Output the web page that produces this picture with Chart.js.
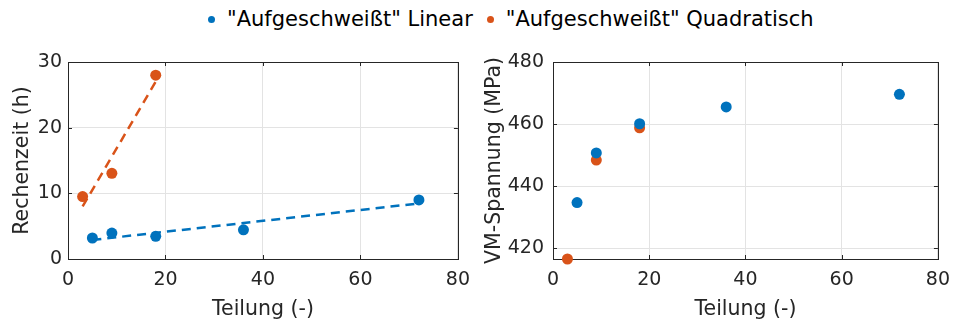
<!DOCTYPE html>
<html>
<head>
<meta charset="utf-8">
<script src="https://cdn.jsdelivr.net/npm/chart.js@4.4.1/dist/chart.umd.min.js"></script>
<style>
  body { margin: 0; background: #fff; width: 960px; height: 325px; position: relative; overflow: hidden; font-family: "DejaVu Sans", sans-serif; }
  .panel { position: absolute; top: 40px; width: 480px; height: 285px; }
  #legend { position: absolute; left: 208px; top: 7px; display: flex; align-items: center; font-size: 21px; line-height: 24px; color: #000; white-space: nowrap; }
  #legend .item { display: flex; align-items: center; margin-right: 14px; }
  #legend .dot { width: 7px; height: 7px; border-radius: 50%; margin-right: 12px; }
</style>
</head>
<body>
<div id="legend"></div>
<div class="panel" style="left:0"><canvas id="timeChart"></canvas></div>
<div class="panel" style="left:480px"><canvas id="stressChart"></canvas></div>
<script>
Chart.defaults.font.family = '"DejaVu Sans", sans-serif';

// series names and colours
const seriesNames = ['"Aufgeschweißt" Linear', '"Aufgeschweißt" Quadratisch'];
const seriesColors = ['#0072BD', '#D95319'];

// left panel: computing time (h)
const linX = [5, 9, 18, 36, 72];
const linTime = [3.2, 3.95, 3.45, 4.45, 9.0];
const quadX = [3, 9, 18];
const quadTime = [9.5, 13.05, 28.0];
// dashed trend lines, endpoints
const linFitX = [5, 72];
const linFitY = [2.9, 8.47];
const quadFitX = [3, 18];
const quadFitY = [8.0, 27.0];

// right panel: von Mises stress (MPa)
const linStress = [434.7, 450.7, 460.1, 465.5, 469.6];
const quadStress = [416.5, 448.4, 458.8];

const xTicks = [0, 20, 40, 60, 80];

const txt = '#262626';

// legend
const legend = document.getElementById('legend');
seriesNames.forEach((name, i) => {
    const item = document.createElement('div');
    item.className = 'item';
    const dot = document.createElement('span');
    dot.className = 'dot';
    dot.style.background = seriesColors[i];
    const label = document.createElement('span');
    label.textContent = name;
    item.appendChild(dot);
    item.appendChild(label);
    legend.appendChild(item);
});

function pts(xs, ys) {
    return xs.map((x, i) => ({ x: x, y: ys[i] }));
}

// matlab style box with inward ticks
const boxPlugin = {
    id: 'box',
    beforeDatasetsDraw(chart) {
        const { ctx, chartArea: a, scales: { x, y } } = chart;
        ctx.save();
        ctx.strokeStyle = txt;
        ctx.lineWidth = 1;
        ctx.strokeRect(Math.round(a.left) + 0.5, Math.round(a.top) + 0.5, Math.round(a.width), Math.round(a.height));
        ctx.beginPath();
        x.ticks.forEach(t => {
            const px = Math.round(x.getPixelForValue(t.value)) + 0.5;
            ctx.moveTo(px, a.bottom); ctx.lineTo(px, a.bottom - 4);
            ctx.moveTo(px, a.top); ctx.lineTo(px, a.top + 4);
        });
        y.ticks.forEach(t => {
            const py = Math.round(y.getPixelForValue(t.value)) + 0.5;
            ctx.moveTo(a.left, py); ctx.lineTo(a.left + 4, py);
            ctx.moveTo(a.right, py); ctx.lineTo(a.right - 4, py);
        });
        ctx.stroke();
        ctx.restore();
    }
};

function xScale() {
    return {
        type: 'linear',
        min: 0,
        max: 80,
        afterBuildTicks: s => { s.ticks = xTicks.map(v => ({ value: v })); },
        afterFit: s => { s.height = 66; },
        grid: { color: '#e3e3e3', drawTicks: false },
        border: { display: false },
        ticks: { color: txt, font: { size: 19 }, padding: 10, maxRotation: 0 },
        title: { display: true, text: 'Teilung (-)', color: txt, font: { size: 20.5 }, padding: { top: 0, bottom: 3 } }
    };
}

function yScale(min, max, step, width, title, titlePad, tickPad) {
    return {
        type: 'linear',
        min: min,
        max: max,
        afterFit: s => { s.width = width; },
        grid: { color: '#e3e3e3', drawTicks: false },
        border: { display: false },
        ticks: { color: txt, font: { size: 19 }, padding: tickPad, stepSize: step, includeBounds: false },
        title: { display: true, text: title, color: txt, font: { size: 20.5 }, padding: { top: titlePad, bottom: 0 } }
    };
}

function dots(xs, ys, i) {
    return {
        label: seriesNames[i],
        data: pts(xs, ys),
        backgroundColor: seriesColors[i],
        borderColor: seriesColors[i],
        pointRadius: 5.5,
        pointHoverRadius: 5.5,
        borderWidth: 0,
        showLine: false,
        clip: false
    };
}

function fitLine(xs, ys, i) {
    return {
        label: seriesNames[i] + ' fit',
        data: pts(xs, ys),
        borderColor: seriesColors[i],
        borderWidth: 2.5,
        borderDash: [9, 6],
        pointRadius: 0,
        showLine: true,
        fill: false,
        clip: false
    };
}

const ctx1 = document.getElementById('timeChart').getContext('2d');
const timeChart = new Chart(ctx1, {
    type: 'scatter',
    data: {
        datasets: [
            fitLine(linFitX, linFitY, 0),
            fitLine(quadFitX, quadFitY, 1),
            dots(linX, linTime, 0),
            dots(quadX, quadTime, 1)
        ]
    },
    options: {
        responsive: true,
        maintainAspectRatio: false,
        animation: false,
        layout: { padding: { top: 22, right: 21, left: 0, bottom: 0 } },
        plugins: { legend: { display: false }, tooltip: { enabled: false } },
        scales: {
            x: xScale(),
            y: yScale(0, 30, 10, 68, 'Rechenzeit (h)', 10, 6)
        }
    },
    plugins: [boxPlugin]
});

const ctx2 = document.getElementById('stressChart').getContext('2d');
const stressChart = new Chart(ctx2, {
    type: 'scatter',
    data: {
        datasets: [
            dots(linX, linStress, 0),
            dots(quadX, quadStress, 1)
        ]
    },
    options: {
        responsive: true,
        maintainAspectRatio: false,
        animation: false,
        layout: { padding: { top: 22, right: 15, left: 0, bottom: 0 } },
        plugins: { legend: { display: false }, tooltip: { enabled: false } },
        scales: {
            x: xScale(),
            y: yScale(416.5, 480, 20, 73, 'VM-Spannung (MPa)', 2, 9)
        }
    },
    plugins: [boxPlugin]
});
</script>
</body>
</html>
